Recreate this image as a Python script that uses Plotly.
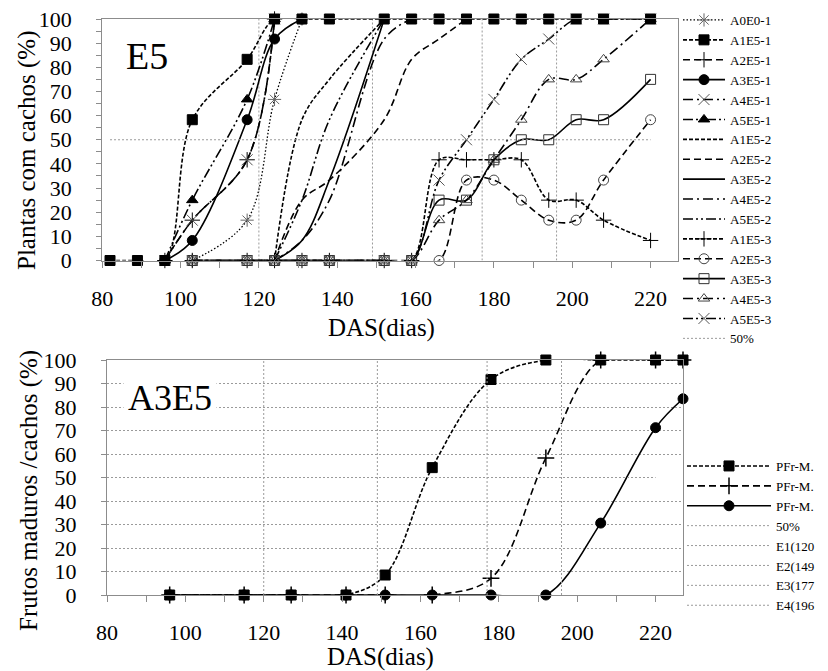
import plotly.graph_objects as go

FONT = "Liberation Serif"
W, H = 828, 671

# ---------------- top chart data (E5) ----------------
days_top = [82, 89, 96, 103, 117, 124, 131, 138, 152, 159, 166, 173, 180, 187, 194, 201, 208, 220]

a0e0_1_x = [103, 117, 124, 131]
a0e0_1_y = [0, 16.7, 66.7, 100]
a1e5_1_x = days_top
a1e5_1_y = [0, 0, 0, 58.3, 83.3, 100, 100, 100, 100, 100, 100, 100, 100, 100, 100, 100, 100, 100]
a2e5_1_x = [96, 103, 117, 124]
a2e5_1_y = [0, 16.7, 41.7, 100]
a3e5_1_x = [96, 103, 117, 124, 131]
a3e5_1_y = [0, 8.3, 58.3, 91.7, 100]
a4e5_1_x = [96, 103, 117, 124]
a4e5_1_y = [0, 16.7, 41.7, 100]
a5e5_1_x = [96, 103, 117, 124]
a5e5_1_y = [0, 25, 66.7, 100]

a1e5_2_x = [124, 131, 138, 152]
a1e5_2_y = [0, 58.3, 75, 100]
a2e5_2_x = [124, 131, 138, 152, 159, 166, 173]
a2e5_2_y = [0, 25, 33.3, 58.3, 83.3, 91.7, 100]
a3e5_2_x = [124, 131, 138, 152]
a3e5_2_y = [0, 8.3, 33.3, 100]
a4e5_2_x = [124, 131, 138, 152, 159]
a4e5_2_y = [0, 8.3, 25, 91.7, 100]
a5e5_2_x = [124, 131, 138, 152]
a5e5_2_y = [0, 25, 58.3, 100]

days_3 = [103, 117, 124, 131, 138, 152, 159, 166, 173, 180, 187, 194, 201, 208, 220]
a1e5_3_y = [0, 0, 0, 0, 0, 0, 0, 41.7, 41.7, 41.7, 41.7, 25, 25, 16.7, 8.3]
a2e5_3_y = [0, 0, 0, 0, 0, 0, 0, 0, 33.3, 33.3, 25, 16.7, 16.7, 33.3, 58.3]
a3e5_3_y = [0, 0, 0, 0, 0, 0, 0, 25, 25, 41.7, 50, 50, 58.3, 58.3, 75]
a4e5_3_y = [0, 0, 0, 0, 0, 0, 0, 16.7, 25, 41.7, 58.3, 75, 75, 83.3, 100]
a5e5_3_y = [0, 0, 0, 0, 0, 0, 0, 33.3, 50, 66.7, 83.3, 91.7, 100, 100, 100]

ref50_x = [82, 220]
ref50_y = [50, 50]
stage_days = [120, 149, 177, 196]
stage_names = ["E1(120", "E2(149", "E3(177", "E4(196"]

# ---------------- bottom chart data (A3E5) ----------------
days_bot = [96, 115, 127, 141, 151, 163, 178, 192, 206, 220, 227]
pfr1_y = [0, 0, 0, 0, 8.5, 54.2, 91.7, 100, 100, 100, 100]
pfr2_y = [0, 0, 0, 0, 0, 0, 7.1, 58.3, 100, 100, 100]
pfr3_y = [0, 0, 0, 0, 0, 0, 0, 0, 30.6, 71.2, 83.5]
ref50b_x = [80, 220]
ref50b_y = [50, 50]

# ---------------- styles ----------------
DOT = "1.5px,2px"
SDASH = "4px,2px"
DASH = "7px,4px"
DASHDOT = "10px,4px,2px,4px"
DASHDOTDOT = "10px,3px,2px,3px,2px,3px"
GRID = "#9a9a9a"
AX = "#8c8c8c"
GDASH = "2px,2px"

fig = go.Figure()


def add(x, y, name, dash, symbol=None, mcolor="black", msize=10, lw=1.6,
        xa="x", ya="y", legend="legend", rank=1000, mlw=1):
    mode = "lines+markers" if symbol else "lines"
    fig.add_trace(go.Scatter(
        x=x, y=y, name=name, mode=mode, legendrank=rank,
        line=dict(color="black", width=lw, dash=dash, shape="spline", smoothing=1.0),
        marker=dict(symbol=symbol or "circle", size=msize, color=mcolor,
                    line=dict(width=mlw, color=mcolor)),
        xaxis=xa, yaxis=ya, legend=legend, cliponaxis=False,
    ))


# stage reference lines in the top chart (not listed in its legend)
for d in stage_days:
    fig.add_trace(go.Scatter(x=[d, d], y=[0, 100], mode="lines",
                             line=dict(color=GRID, width=1, dash=GDASH),
                             showlegend=False, xaxis="x", yaxis="y", hoverinfo="skip"))

add(a0e0_1_x, a0e0_1_y, "A0E0-1", DOT, "asterisk-open", "#666", 11, lw=1.3, rank=1)
add(a2e5_1_x, a2e5_1_y, "A2E5-1", DASH, "cross-thin-open", "black", 11, rank=3)
add(a3e5_1_x, a3e5_1_y, "A3E5-1", None, "circle", "black", 10, rank=4)
add(a4e5_1_x, a4e5_1_y, "A4E5-1", DASHDOT, "x-thin-open", "#555", 11, rank=5)
add(a5e5_1_x, a5e5_1_y, "A5E5-1", DASHDOTDOT, "triangle-up", "black", 10, rank=6)
add(a1e5_2_x, a1e5_2_y, "A1E5-2", SDASH, rank=7)
add(a2e5_2_x, a2e5_2_y, "A2E5-2", DASH, rank=8)
add(a3e5_2_x, a3e5_2_y, "A3E5-2", None, rank=9)
add(a4e5_2_x, a4e5_2_y, "A4E5-2", DASHDOT, rank=10)
add(a5e5_2_x, a5e5_2_y, "A5E5-2", DASHDOTDOT, rank=11)
add(days_3, a1e5_3_y, "A1E5-3", SDASH, "cross-thin-open", "black", 11, rank=12)
add(days_3, a2e5_3_y, "A2E5-3", DASH, "circle-open", "#444", 10, rank=13)
add(days_3, a3e5_3_y, "A3E5-3", None, "square-open", "#333", 10, rank=14)
add(days_3, a4e5_3_y, "A4E5-3", DASHDOT, "triangle-up-open", "#444", 10, rank=15)
add(days_3, a5e5_3_y, "A5E5-3", DASHDOTDOT, "x-thin-open", "#555", 11, rank=16)
add(a1e5_1_x, a1e5_1_y, "A1E5-1", SDASH, "square", "black", 10, rank=2)
fig.add_trace(go.Scatter(x=ref50_x, y=ref50_y, name="50%", mode="lines", legendrank=17,
                         line=dict(color=GRID, width=1, dash=GDASH),
                         xaxis="x", yaxis="y", legend="legend"))

# bottom chart (drawn so the squares sit on top)
add(days_bot, pfr3_y, "PFr-M.", None, "circle", "black", 10, xa="x2", ya="y2", legend="legend2", rank=3)
add(days_bot, pfr2_y, "PFr-M.", DASH, "cross-thin-open", "black", 12, xa="x2", ya="y2",
    legend="legend2", rank=2, mlw=1.5)
add(days_bot, pfr1_y, "PFr-M.", SDASH, "square", "black", 10, xa="x2", ya="y2", legend="legend2", rank=1)
fig.add_trace(go.Scatter(x=ref50b_x, y=ref50b_y, name="50%", mode="lines", legendrank=4,
                         line=dict(color=GRID, width=1, dash=GDASH),
                         xaxis="x2", yaxis="y2", legend="legend2"))
for i, (d, nm) in enumerate(zip(stage_days, stage_names)):
    fig.add_trace(go.Scatter(x=[d, d], y=[0, 100], name=nm, mode="lines", legendrank=5 + i,
                             line=dict(color=GRID, width=1, dash=GDASH),
                             xaxis="x2", yaxis="y2", legend="legend2"))


def px_x(p):
    return p / W


def px_y(p):
    return 1 - p / H


tickfont = dict(family=FONT, size=22, color="black")
common_x = dict(range=[80, 227], tick0=80, dtick=20, ticks="outside", ticklen=6,
                tickcolor=AX, linecolor=AX, linewidth=1, mirror=True, showline=True,
                showgrid=False, zeroline=False, tickfont=tickfont, ticklabelstandoff=12,
                minor=dict(dtick=10, ticks="outside", ticklen=6, tickcolor=AX, showgrid=False))
common_y = dict(range=[0, 100], dtick=10, ticks="outside", ticklen=5, tickcolor=AX,
                linecolor=AX, showline=True, mirror=True, showgrid=False, zeroline=False,
                tickfont=tickfont, ticklabelstandoff=20)
fig.update_layout(
    width=W, height=H, margin=dict(l=0, r=0, t=0, b=0, autoexpand=False),
    paper_bgcolor="white", plot_bgcolor="white",
    font=dict(family=FONT, color="black"),
    xaxis=dict(domain=[px_x(102.2), px_x(678)], anchor="y", **common_x),
    yaxis=dict(domain=[px_y(260.5), px_y(19)], anchor="x",
               minor=dict(dtick=5, ticks="outside", ticklen=5, tickcolor=AX, showgrid=False),
               **common_y),
    xaxis2=dict(domain=[px_x(107), px_x(683)], anchor="y2", **common_x),
    yaxis2=dict(domain=[px_y(595), px_y(360)], anchor="x2",
                minor=dict(tickvals=[10, 20, 30, 40, 60, 70, 80, 90], showgrid=True,
                           gridcolor=GRID, griddash=GDASH, gridwidth=1, ticks=""),
                **common_y),
    legend=dict(x=px_x(678), y=px_y(5), xanchor="left", yanchor="top",
                font=dict(family=FONT, size=13), tracegroupgap=0, bgcolor="rgba(0,0,0,0)",
                itemwidth=42),
    legend2=dict(x=px_x(682), y=px_y(451), xanchor="left", yanchor="top",
                 font=dict(family=FONT, size=13), tracegroupgap=0, bgcolor="rgba(0,0,0,0)",
                 itemwidth=84),
    showlegend=True,
)

ann = [
    dict(text="E5", x=px_x(147), y=px_y(56), font=dict(size=38)),
    dict(text="A3E5", x=px_x(170), y=px_y(398), font=dict(size=36), bgcolor="white",
         borderpad=4),
    dict(text="Plantas com cachos (%)", x=px_x(27), y=px_y(150), textangle=-90, font=dict(size=25)),
    dict(text="DAS(dias)", x=px_x(381), y=px_y(328), font=dict(size=25)),
    dict(text="Frutos maduros /cachos (%)", x=px_x(29), y=px_y(491), textangle=-90, font=dict(size=25)),
    dict(text="DAS(dias)", x=px_x(380), y=px_y(657), font=dict(size=25)),
]
for a in ann:
    a.update(xref="paper", yref="paper", showarrow=False, xanchor="center", yanchor="middle")
    a["font"].update(family=FONT, color="black")
fig.update_layout(annotations=ann)

fig.write_html("out.html")
